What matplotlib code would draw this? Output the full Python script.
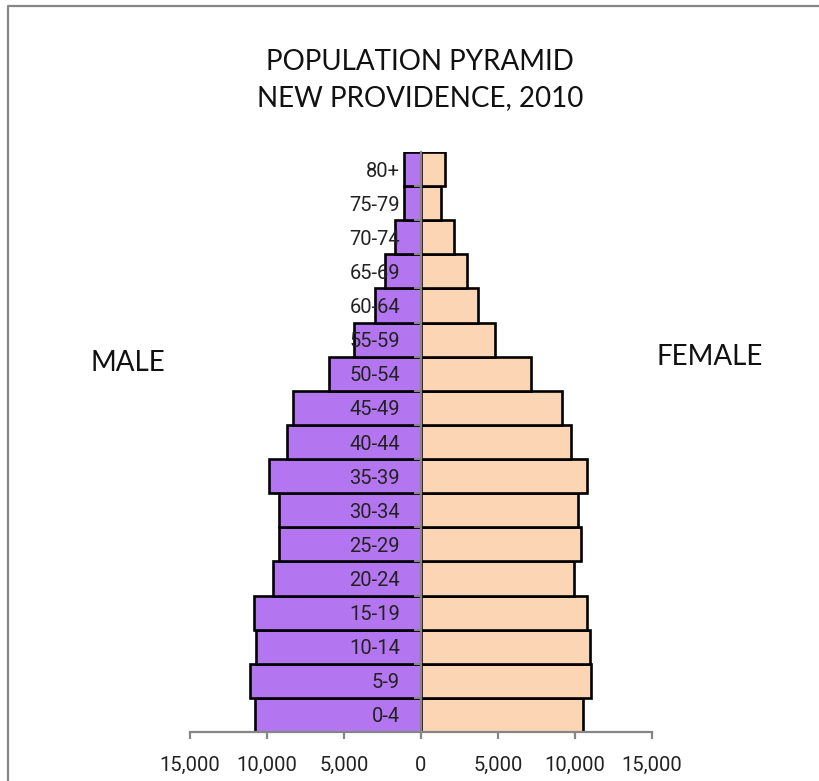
import matplotlib.pyplot as plt
from matplotlib.lines import Line2D
from matplotlib.ticker import FuncFormatter, FixedLocator

# Population by age group, New Providence 2010
age_groups = ["0-4", "5-9", "10-14", "15-19", "20-24", "25-29", "30-34", "35-39",
              "40-44", "45-49", "50-54", "55-59", "60-64", "65-69", "70-74", "75-79", "80+"]
male = [10800, 11080, 10690, 10860, 9640, 9250, 9250, 9870,
        8710, 8320, 5960, 4370, 3010, 2370, 1660, 1080, 1080]
female = [10490, 11070, 10960, 10750, 9930, 10360, 10210, 10750,
          9740, 9140, 7160, 4790, 3680, 2970, 2170, 1310, 1570]
x_ticks = [-15000, -10000, -5000, 0, 5000, 10000, 15000]

male_color = "#B476F0"
female_color = "#FCD5B5"
axis_gray = "#868686"
tick_font = ["Roboto", "DejaVu Sans"]
label_font = ["Lato", "DejaVu Sans"]

fig = plt.figure(figsize=(8.19, 7.81), dpi=100, facecolor="white")

# outer chart frame: only its top and left edges fall inside the picture
fx, fy = 8 / 819, 1 - 6 / 781
fig.lines.append(Line2D([fx, fx, 1.0], [0.0, fy, fy], transform=fig.transFigure,
                        color=axis_gray, linewidth=1.6))

ax = fig.add_axes([190 / 819, 49 / 781, 462 / 819, 580 / 781])
ypos = list(range(len(age_groups)))

ax.barh(ypos, [-v for v in male], height=1.0, color=male_color,
        edgecolor="black", linewidth=1.9, zorder=2)
ax.barh(ypos, female, height=1.0, color=female_color,
        edgecolor="black", linewidth=1.9, zorder=2)

ax.set_xlim(-15000, 15000)
ax.set_ylim(-0.5, len(age_groups) - 0.5)

for side in ("top", "right"):
    ax.spines[side].set_visible(False)
ax.spines["left"].set_position(("data", 0))
for side in ("left", "bottom"):
    ax.spines[side].set_color(axis_gray)
    ax.spines[side].set_linewidth(1.6)
    ax.spines[side].set_zorder(3)

ax.set_xticks(x_ticks)
ax.xaxis.set_major_formatter(FuncFormatter(lambda v, p: f"{abs(int(v)):,}"))
ax.tick_params(axis="x", direction="out", length=5, width=1.6, color=axis_gray,
               pad=12, labelsize=14.5)

ax.set_yticks(ypos)
ax.set_yticklabels(age_groups)
ax.yaxis.set_minor_locator(FixedLocator([i + 0.5 for i in ypos[:-1]]))
ax.tick_params(axis="y", which="major", length=0, pad=15, labelsize=14.5)
ax.tick_params(axis="y", which="minor", direction="out", length=5, width=1.6,
               color=axis_gray)
ax.yaxis.set_zorder(4)
for lab in ax.get_xticklabels() + ax.get_yticklabels():
    lab.set_family(tick_font)
    lab.set_color("#222222")

fig.text(420 / 819, 1 - 80 / 781, "POPULATION PYRAMID\nNEW PROVIDENCE, 2010",
         ha="center", va="center", fontsize=20, family=label_font,
         linespacing=1.5, color="#111111")
fig.text(128 / 819, 1 - 363 / 781, "MALE", ha="center", va="center",
         fontsize=20, family=label_font, color="#111111")
fig.text(710 / 819, 1 - 357 / 781, "FEMALE", ha="center", va="center",
         fontsize=20, family=label_font, color="#111111")

fig.savefig("out.png", dpi=100, facecolor="white")
